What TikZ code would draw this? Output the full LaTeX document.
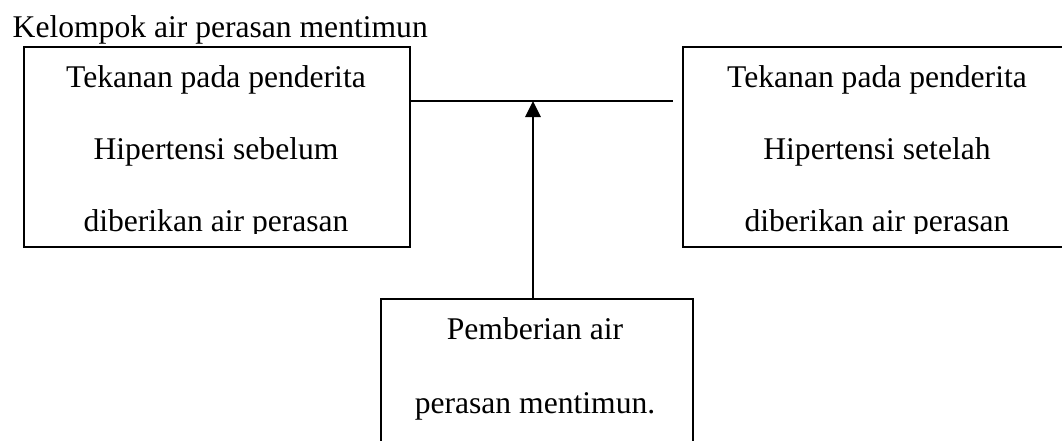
\documentclass[tikz,border=0pt]{standalone}
\usepackage{fontspec}
\setmainfont{Liberation Serif}
\usetikzlibrary{arrows.meta}
\begin{document}
\begin{tikzpicture}[x=1pt,y=-1pt,
  box/.style={draw,line width=1.9pt,inner sep=0pt,anchor=north west},
  txt/.style={anchor=base,inner sep=0pt,font=\fontsize{31.6}{36}\selectfont},
  link/.style={line width=1.5pt},
  flow/.style={line width=2.8pt,-{Triangle[width=15pt,length=16pt]}}]
\useasboundingbox (0,0) rectangle (1062,440);
\clip (0,0) rectangle (1062,440);

% heading
\node[txt,anchor=base west] (title) at (12.5,37) {Kelompok air perasan mentimun};

% boxes
\node[box,minimum width=386pt,minimum height=200pt] (before) at (23,46) {};
\node[box,minimum width=390pt,minimum height=200pt] (after) at (682,46) {};
\node[box,minimum width=312pt,minimum height=160pt] (treat) at (380,298) {};

% box texts (last lines are cut off at the baseline)
\begin{scope}
  \clip (0,40) rectangle (1062,233.5);
  \node[txt] (b1) at (216,87) {Tekanan pada penderita};
  \node[txt] (b2) at (216,159) {Hipertensi sebelum};
  \node[txt] (b3) at (216,231.5) {diberikan air perasan};
  \node[txt] (a1) at (877,87) {Tekanan pada penderita};
  \node[txt] (a2) at (877,159) {Hipertensi setelah};
  \node[txt] (a3) at (877,231.5) {diberikan air perasan};
\end{scope}
\node[txt] (t1) at (535,339) {Pemberian air};
\node[txt] (t2) at (535,413) {perasan mentimun.};

% connectors
\coordinate (hend) at (673,101);
\coordinate (join) at (533,101);
\draw[link] (before.north east |- hend) -- (hend);
\draw[flow] (join |- treat.north) -- (join);
\end{tikzpicture}
\end{document}
